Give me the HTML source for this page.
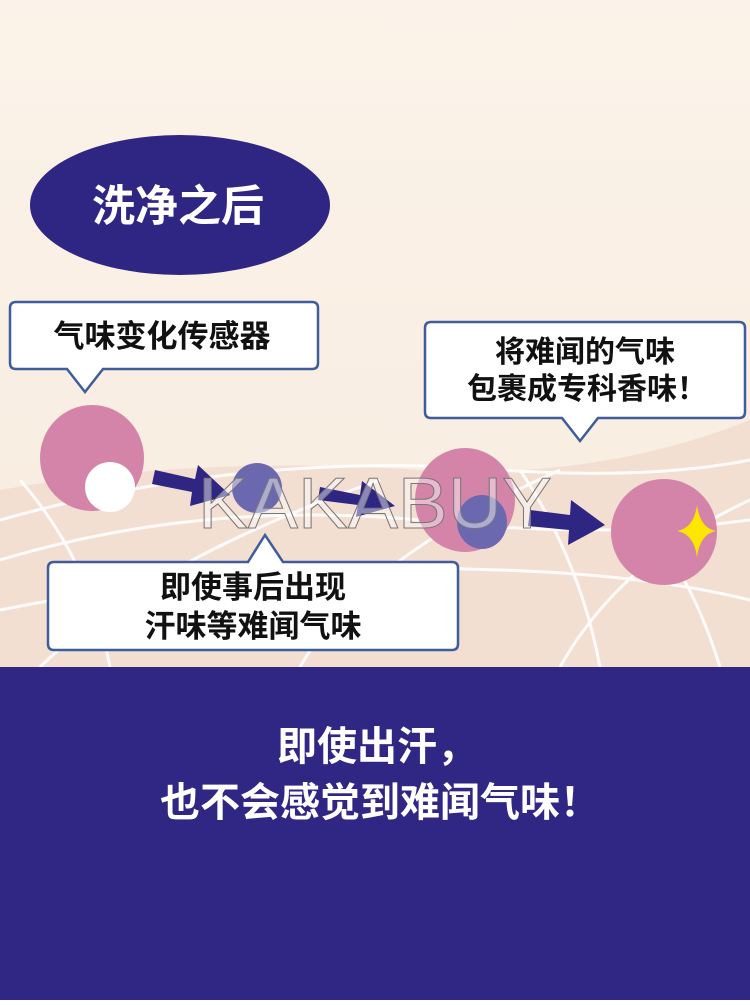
<!DOCTYPE html>
<html><head><meta charset="utf-8"><style>
html,body{margin:0;padding:0;}
body{width:750px;height:1000px;overflow:hidden;font-family:"Liberation Sans","Noto Sans CJK SC",sans-serif;}
svg text{font-family:"Liberation Sans","Noto Sans CJK SC",sans-serif;}
</style></head><body>
<svg width="750" height="1000" viewBox="0 0 750 1000" xmlns="http://www.w3.org/2000/svg">
<defs>
<linearGradient id="bg" x1="0" y1="0" x2="0" y2="1">
<stop offset="0" stop-color="#fbf3e9"/><stop offset="1" stop-color="#f8ebdf"/>
</linearGradient>
</defs>
<rect width="750" height="667" fill="url(#bg)"/>
<path d="M0 490 Q200 455 420 470 Q600 480 750 420 L750 667 L0 667 Z" fill="#f3dfd2"/>
<g stroke="#ffffff" stroke-width="3" fill="none" opacity="0.9">
<path d="M0 520 Q250 450 500 470 Q650 480 750 460"/>
<path d="M0 560 Q200 500 420 520 Q600 540 750 520"/>
<path d="M0 610 Q250 560 500 570 Q650 575 750 600"/>
<path d="M40 667 Q150 560 380 480"/>
<path d="M20 480 Q90 560 110 667"/>
<path d="M300 667 Q360 560 560 470"/>
<path d="M560 667 Q620 560 750 500"/>
<path d="M600 667 Q580 560 520 470"/>
<path d="M720 667 Q690 570 640 520"/>
</g>
<ellipse cx="180" cy="205" rx="150" ry="70" fill="#2e2682"/>
<text x="178" y="221" text-anchor="middle" font-size="43" font-weight="bold" fill="#fff">洗净之后</text>
<path d="M16 302 H312 Q318 302 318 308 V363 Q318 369 312 369 H103 L85 392 L67 369 H16 Q10 369 10 363 V308 Q10 302 16 302 Z" fill="#fff" stroke="#3f5d9a" stroke-width="2.5"/>
<text x="162" y="347" text-anchor="middle" font-size="31" font-weight="bold" fill="#111">气味变化传感器</text>
<path d="M431 322 H739 Q745 322 745 328 V412 Q745 418 739 418 H598 L580 441 L562 418 H431 Q425 418 425 412 V328 Q425 322 431 322 Z" fill="#fff" stroke="#3f5d9a" stroke-width="2.5"/>
<text x="585" y="362" text-anchor="middle" font-size="30" font-weight="bold" fill="#111">将难闻的气味</text>
<text x="587" y="399" text-anchor="middle" font-size="30" font-weight="bold" fill="#111">包裹成专科香味！</text>
<ellipse cx="92" cy="458" rx="52" ry="53" fill="#d484a8"/>
<ellipse cx="110" cy="487" rx="25" ry="25" fill="#fff"/>
<circle cx="257" cy="488" r="25" fill="#6b68b0"/>
<ellipse cx="465" cy="500" rx="50" ry="52" fill="#d484a8"/>
<ellipse cx="482" cy="522" rx="25" ry="27" fill="#6b68b0"/>
<ellipse cx="664" cy="532" rx="53" ry="53" fill="#d484a8"/>
<path d="M697 505 Q700 528 716 531 Q700 534 697 557 Q694 534 677 531 Q694 528 697 505 Z" fill="#ffe600"/>
<g fill="#2e2682">
<path d="M155 470 L195 479 L198 465 L230 495 L190 506 L192 492 L152 484 Z"/>
<path d="M320 487 L360 495 L362 481 L395 506 L356 517 L358 505 L318 500 Z"/>
<path d="M530 510 L570 515 L571 500 L605 525 L568 545 L569 530 L528 526 Z"/>
</g>
<path d="M54 562 H248 L265 535 L283 562 H452 Q458 562 458 568 V644 Q458 650 452 650 H54 Q48 650 48 644 V568 Q48 562 54 562 Z" fill="#fff" stroke="#3f5d9a" stroke-width="2.5"/>
<text x="253" y="598" text-anchor="middle" font-size="31" font-weight="bold" fill="#111">即使事后出现</text>
<text x="253" y="637" text-anchor="middle" font-size="31" font-weight="bold" fill="#111">汗味等难闻气味</text>
<text x="375" y="528" text-anchor="middle" font-size="72" fill="#ffffff" fill-opacity="0.45" stroke="#777" stroke-width="1" textLength="354" lengthAdjust="spacingAndGlyphs">KAKABUY</text>
<rect y="667" width="750" height="333" fill="#302684"/>
<text x="377" y="760" text-anchor="middle" font-size="40" font-weight="bold" fill="#fff">即使出汗，</text>
<text x="380" y="816" text-anchor="middle" font-size="40" font-weight="bold" fill="#fff">也不会感觉到难闻气味！</text>
</svg>
</body></html>
